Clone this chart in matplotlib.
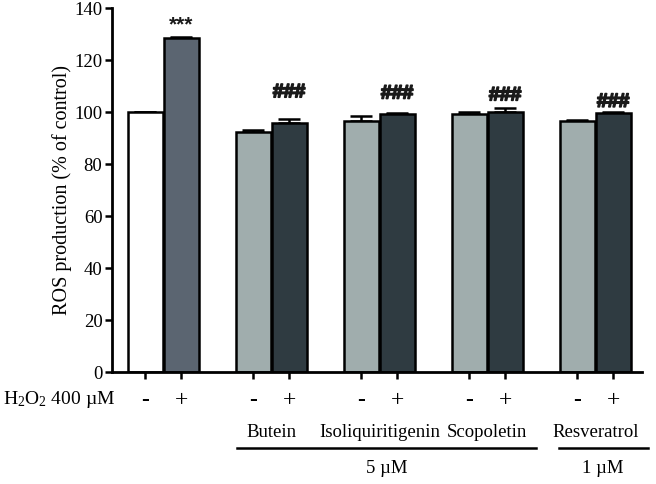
import matplotlib
matplotlib.use("Agg")
import matplotlib.pyplot as plt
import matplotlib.patheffects as pe
from matplotlib.transforms import blended_transform_factory

plt.rcParams['font.family'] = ['Liberation Serif', 'DejaVu Serif']
plt.rcParams['mathtext.fontset'] = 'custom'
plt.rcParams['mathtext.rm'] = 'Liberation Serif'
plt.rcParams['mathtext.it'] = 'Liberation Serif:italic'
plt.rcParams['mathtext.bf'] = 'Liberation Serif:bold'

# Data
conditions = ["Control", "H2O2", "Butein -", "Butein +", "Isoliquiritigenin -", "Isoliquiritigenin +",
              "Scopoletin -", "Scopoletin +", "Resveratrol -", "Resveratrol +"]
values = [100.0, 128.5, 92.4, 96.0, 96.8, 99.2, 99.5, 100.1, 96.8, 99.7]
errors = [0.0, 0.4, 0.6, 1.5, 1.6, 0.5, 0.5, 1.4, 0.3, 0.4]
h2o2_signs = ["-", "+", "-", "+", "-", "+", "-", "+", "-", "+"]
compounds = ["Butein", "Isoliquiritigenin", "Scopoletin", "Resveratrol"]
doses = ["5 \u00b5M", "1 \u00b5M"]
sig_labels = ["", "***", "", "###", "", "###", "", "###", "", "###"]
sig_heights = [0, 133.5, 0, 107.5, 0, 107.0, 0, 106.3, 0, 103.8]

positions = [0, 1, 3, 4, 6, 7, 9, 10, 12, 13]
colors = ["#ffffff", "#5b6571", "#a0adad", "#2f3b41", "#a0adad", "#2f3b41",
          "#a0adad", "#2f3b41", "#a0adad", "#2f3b41"]

fig = plt.figure(figsize=(6.56, 4.84), dpi=100)
ax = fig.add_axes([0.171, 0.231, 0.808, 0.752])

ax.bar(positions, values, width=0.97, color=colors, edgecolor="black", linewidth=1.8, zorder=2)
ax.errorbar(positions, values, yerr=[[0]*len(errors), errors], fmt="none", ecolor="black",
            elinewidth=1.8, capsize=8, capthick=1.8, zorder=1)

thick = [pe.withStroke(linewidth=1.2, foreground="#1a1a1a")]
for x, lab, h in zip(positions, sig_labels, sig_heights):
    if lab == "###":
        ax.text(x, h, lab, ha="center", va="center", fontsize=14,
                fontweight="bold", family=["Liberation Sans"], color="#1a1a1a",
                path_effects=thick)
    elif lab:
        ax.text(x, h, lab, ha="center", va="center", fontsize=15,
                fontweight="bold", family=["Liberation Sans"], color="#1a1a1a")

ax.set_ylim(0, 140)
ax.set_xlim(-0.92, 13.8)
ax.set_yticks(range(0, 141, 20))
ax.set_xticks(positions)
ax.set_xticklabels([])
ax.tick_params(axis="both", direction="out", width=1.8, length=5, labelsize=13.5, pad=2)
for s in ["top", "right"]:
    ax.spines[s].set_visible(False)
for s in ["left", "bottom"]:
    ax.spines[s].set_linewidth(2.0)
ax.set_ylabel("ROS production (% of control)", fontsize=14.5, labelpad=2)

tr = blended_transform_factory(ax.transData, ax.transAxes)
for x, s in zip(positions, h2o2_signs):
    ax.text(x, -0.077, s, transform=tr, ha="center", va="center", fontsize=17,
            fontweight="bold" if s == "-" else "normal", clip_on=False)
fig.text(0.176, 1 - 400/484, "H$_\\mathrm{2}$O$_\\mathrm{2}$ 400 \u00b5M", ha="right", va="center",
         fontsize=14)

for i, name in enumerate(compounds):
    cx = (positions[2 + 2*i] + positions[3 + 2*i]) / 2
    ax.text(cx, -0.165, name, transform=tr, ha="center", va="center", fontsize=13.5, clip_on=False)

ax.plot([2.55, 10.85], [-0.209, -0.209], transform=tr, color="black", lw=1.8, clip_on=False)
ax.plot([11.5, 13.95], [-0.209, -0.209], transform=tr, color="black", lw=1.8, clip_on=False)
ax.text(6.7, -0.264, doses[0], transform=tr, ha="center", va="center", fontsize=13.5, clip_on=False)
ax.text(12.7, -0.264, doses[1], transform=tr, ha="center", va="center", fontsize=13.5, clip_on=False)

fig.savefig("out.png", dpi=100)
